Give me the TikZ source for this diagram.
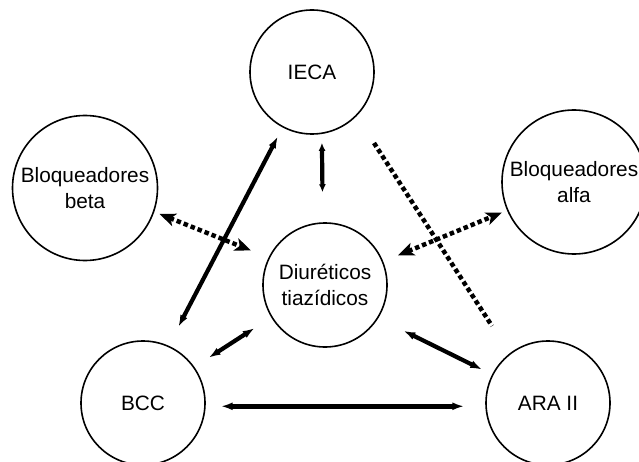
\documentclass[tikz,border=0pt]{standalone}
\usepackage{fontspec}
\setmainfont{Liberation Sans}
\usetikzlibrary{arrows.meta}
\begin{document}
\begin{tikzpicture}[x=1pt,y=1pt,
  drug/.style={circle, draw, line width=1.6pt, inner sep=0pt, align=center,
    font=\fontsize{20.8}{25.5}\selectfont},
  solidlink/.style={line width=4.2pt,
    {Latex[length=12pt,width=8pt]}-{Latex[length=12pt,width=8pt]}},
  shortlink/.style={line width=4.2pt,
    {Latex[length=8pt,width=7pt]}-{Latex[length=8pt,width=7pt]}},
  dottedlink/.style={line width=4.5pt, dash pattern=on 4.5pt off 3pt,
    {Stealth[length=16pt,width=13pt,inset=4pt]}-{Stealth[length=16pt,width=13pt,inset=4pt]}},
  cutline/.style={line width=4.5pt, dash pattern=on 4.5pt off 3pt}]
  \useasboundingbox (0,0) rectangle (639,461);

  % drug classes
  \node[drug, minimum size=124pt] (ieca) at (312,389) {IECA};
  \node[drug, minimum size=145pt] (beta) at (85,273) {Bloqueadores\\beta};
  \node[drug, minimum size=144pt] (alfa) at (574,279) {Bloqueadores\\alfa};
  \node[drug, minimum size=124pt] (diur) at (325,176) {Diuréticos\\tiazídicos};
  \node[drug, minimum size=124pt] (bcc)  at (143,58)  {BCC};
  \node[drug, minimum size=124pt] (ara)  at (548,58)  {ARA II};

  % preferred combinations
  \draw[solidlink, shorten <=10pt, shorten >=21pt] (ieca.242) -- (bcc.66);
  \draw[shortlink, shorten <=8.8pt, shorten >=30pt] (ieca.279.3) -- (diur.92.8);
  \draw[solidlink, shorten <=16.8pt, shorten >=19.6pt] (bcc.35.7) -- (diur.211);
  \draw[solidlink, shorten <=28pt, shorten >=10.9pt] (diur.328.6) -- (ara.153.1);
  \draw[solidlink, line width=4.8pt, shorten <=15pt, shorten >=21pt] (bcc.357) -- (ara.183);

  % less common combinations
  \draw[dottedlink, shorten <=5.6pt, shorten >=19pt] (beta.341) -- (diur.154);
  \draw[dottedlink, shorten <=16pt, shorten >=5.5pt] (diur.22.6) -- (alfa.203.6);

  % excluded pair
  \coordinate (cutA) at (374,318);
  \coordinate (cutB) at (492,135);
  \draw[cutline] (cutA) -- (cutB);
\end{tikzpicture}
\end{document}
